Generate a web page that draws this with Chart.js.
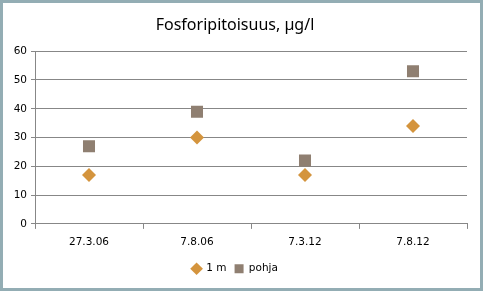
<!DOCTYPE html>
<html>
<head>
<meta charset="utf-8">
<script src="https://cdn.jsdelivr.net/npm/chart.js@4"></script>
<style>
  html, body { margin: 0; padding: 0; background: #fff; }
  #frame {
    width: 483px; height: 291px; box-sizing: border-box;
    border: 3px solid #93adb4; background: #fff;
  }
  #chart { display: block; }
</style>
</head>
<body>
<div id="frame"><canvas id="chart" width="477" height="285"></canvas></div>
<script>
// Fosforipitoisuus chart
const categories = ['27.3.06', '7.8.06', '7.3.12', '7.8.12'];
const series1m = [17, 30, 17, 34];
const seriesPohja = [27, 39, 22, 53];
const yTicks = [0, 10, 20, 30, 40, 50, 60];

const gridColor = '#878787';
const tickFont = { family: 'DejaVu Sans', size: 10.5 };

const ctx = document.getElementById('chart');
const chart = new Chart(ctx, {
  type: 'line',
  data: {
    labels: categories,
    datasets: [
      {
        label: '1 m',
        data: series1m,
        showLine: false,
        pointStyle: 'rectRot',
        pointRadius: 7,
        pointHoverRadius: 7,
        pointBackgroundColor: '#d4943d',
        pointBorderWidth: 0,
        borderColor: '#d4943d',
        backgroundColor: '#d4943d',
      },
      {
        label: 'pohja',
        data: seriesPohja,
        showLine: false,
        pointStyle: 'rect',
        pointRadius: 8.5,
        pointHoverRadius: 8.5,
        pointBackgroundColor: '#8f7f71',
        pointBorderWidth: 0,
        borderColor: '#8f7f71',
        backgroundColor: '#8f7f71',
      },
    ],
  },
  options: {
    responsive: false,
    animation: false,
    layout: { padding: { left: 0, right: 13, top: 0, bottom: 4 } },
    plugins: {
      title: {
        display: true,
        text: 'Fosforipitoisuus, µg/l',
        color: '#000',
        font: { family: 'Noto Sans', size: 16, weight: 'normal' },
        padding: { top: 13, bottom: 16 },
      },
      legend: {
        position: 'bottom',
        labels: {
          usePointStyle: true,
          boxWidth: 9,
          boxHeight: 9,
          padding: 8,
          color: '#000',
          font: tickFont,
        },
      },
      tooltip: { enabled: false },
    },
    scales: {
      x: {
        offset: true,
        grid: {
          offset: true,
          drawOnChartArea: false,
          drawTicks: true,
          tickLength: 5,
          color: gridColor,
        },
        border: { color: gridColor },
        ticks: { color: '#000', font: tickFont, padding: 7 },
      },
      y: {
        min: 0,
        max: 60,
        afterFit: (s) => { s.width = 32; },
        afterBuildTicks: (s) => { s.ticks = yTicks.map((v) => ({ value: v })); },
        grid: { color: gridColor, tickLength: 4 },
        border: { color: gridColor },
        ticks: { color: '#000', font: tickFont, padding: 4 },
      },
    },
  },
});
</script>
</body>
</html>
